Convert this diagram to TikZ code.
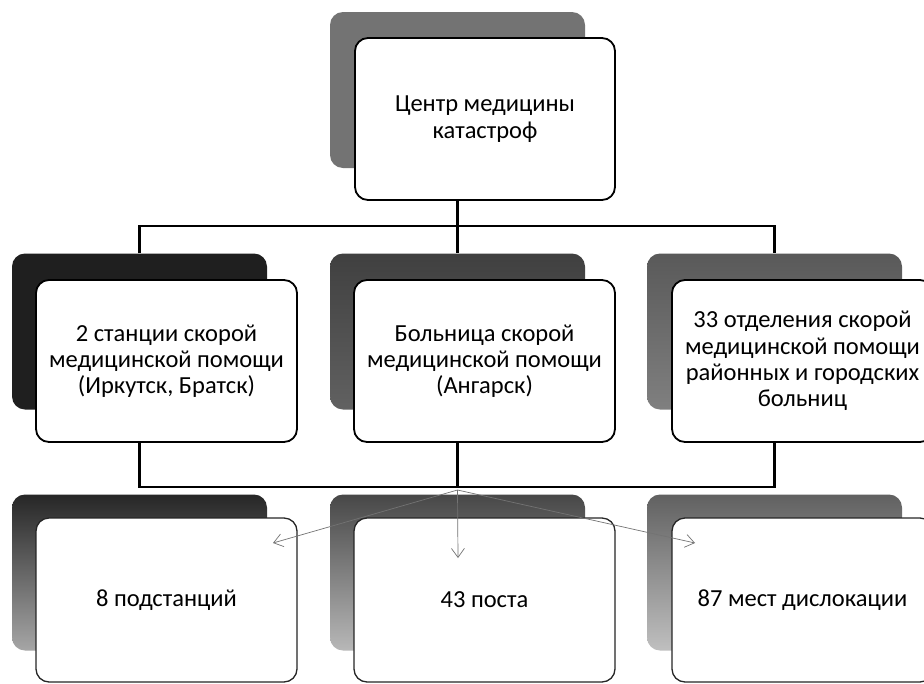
\documentclass[tikz,border=0pt]{standalone}
\usepackage{fontspec}
\setmainfont{Carlito}
\usetikzlibrary{arrows.meta}
\begin{document}
\begin{tikzpicture}[x=1pt,y=-1pt,
  shadowbox/.style={rounded corners=13pt, minimum width=255pt, minimum height=156pt, inner sep=0pt, draw=none},
  frontbox/.style={draw=black, line width=1.8pt, fill=white, rounded corners=13pt,
     minimum width=261pt, minimum height=162pt, inner sep=0pt, align=center,
     font=\fontsize{24.5}{26.3}\selectfont},
  lowbox/.style={frontbox, draw=black!85, line width=1.3pt, minimum height=164pt},
  bus/.style={line width=2.4pt, black},
  ghost/.style={black!55, line width=0.7pt, -{Straight Barb[length=9pt, width=13pt, line width=0.7pt]}}
]
\useasboundingbox (0,0) rectangle (924,683);
\clip (0,0) rectangle (924,683);
% top
\node[shadowbox, fill=black!55] (stop) at (457.5,90) {};
\node[frontbox, minimum width=260pt] (ftop) at (485,119) {Центр медицины\\катастроф};
% middle row
\node[shadowbox, fill=black!88] (smL) at (139.5,331.5) {};
\node[frontbox] (fmL) at (166.5,361) {2 станции скорой\\медицинской помощи\\(Иркутск, Братск)};
\node[shadowbox, top color=black!75, bottom color=black!62] (smC) at (457.5,331.5) {};
\node[frontbox] (fmC) at (484.5,361) {Больница скорой\\медицинской помощи\\(Ангарск)};
\node[shadowbox, top color=black!65, bottom color=black!50] (smR) at (774.5,331.5) {};
\node[frontbox] (fmR) at (802.5,361) {33 отделения скорой\\медицинской помощи\\районных и городских\\больниц};
% connectors top -> middle
\coordinate (bus1) at (457.5,226);
\draw[bus] (ftop.south -| bus1) -- (bus1);
\draw[bus] (smL.north) -- (smL.north |- bus1) -- (smR.north |- bus1) -- (smR.north);
\draw[bus] (bus1) -- (smC.north);
% connectors middle -> bus2
\coordinate (bus2) at (457.5,487);
\draw[bus] (fmL.south -| smL) -- (bus2 -| smL) -- (bus2 -| smR) -- (fmR.south -| smR);
\draw[bus] (fmC.south -| smC) -- (bus2);
% bottom row
\node[shadowbox, top color=black!85, bottom color=black!35] (sbL) at (139.5,572.5) {};
\node[lowbox] (fbL) at (166.5,600) {8 подстанций};
\node[shadowbox, top color=black!72, bottom color=black!28] (sbC) at (457.5,572.5) {};
\node[lowbox] (fbC) at (484.5,600) {43 поста};
\node[shadowbox, top color=black!62, bottom color=black!25] (sbR) at (774.5,572.5) {};
\node[lowbox] (fbR) at (802.5,600) {87 мест дислокации};
% faint arrows
\coordinate (fan) at (457.5,490);
\coordinate (tipL) at (273,543);
\coordinate (tipC) at (458,558);
\coordinate (tipR) at (695,543);
\draw[ghost] (fan) -- (tipL);
\draw[ghost] (fan) -- (tipC);
\draw[ghost] (fan) -- (tipR);
\end{tikzpicture}
\end{document}
